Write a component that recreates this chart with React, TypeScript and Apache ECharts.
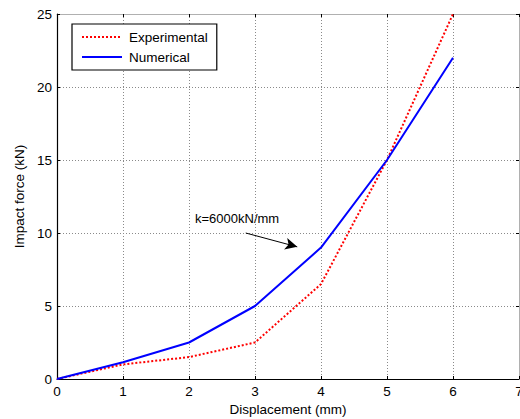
import React, { useEffect, useRef } from "react";
import * as echarts from "echarts";

const displacement = [0, 1, 2, 3, 4, 5, 6];
const experimental = [0, 1.0, 1.5, 2.5, 6.5, 15, 25];
const numerical = [0, 1.15, 2.5, 5, 9, 15, 22];
const annotationText = "k=6000kN/mm";
const arrowFrom = [2.86, 10.0];
const arrowTo = [3.64, 9.05];

const FONT = "Liberation Sans, Arial, sans-serif";

export default function App() {
  const ref = useRef<HTMLDivElement>(null);
  useEffect(() => {
    if (!ref.current) return;
    const chart = echarts.init(ref.current, undefined, { renderer: "svg" });
    const gridLine = { show: true, lineStyle: { color: "#8a8a8a", type: [1, 2] as any, width: 1 } };
    const option: any = {
      animation: false,
      backgroundColor: "#ffffff",
      textStyle: { fontFamily: FONT },
      grid: { left: 57, right: 1, top: 14, bottom: 40, containLabel: false, outerBoundsMode: "none" },
      legend: {
        orient: "vertical",
        left: 72,
        top: 24,
        padding: [6, 9, 6, 9],
        itemWidth: 40,
        itemHeight: 14,
        itemGap: 6,
        borderColor: "#000",
        borderWidth: 1.2,
        backgroundColor: "#fff",
        itemStyle: { opacity: 0 },
        textStyle: { fontFamily: FONT, fontSize: 13.5, color: "#000", padding: [0, 0, 0, 2] },
        data: ["Experimental", "Numerical"],
      },
      xAxis: [
        {
          type: "value",
          min: 0,
          max: 7,
          interval: 1,
          name: "Displacement (mm)",
          nameLocation: "middle",
          nameGap: 22,
          nameTextStyle: { fontFamily: FONT, fontSize: 13.5, color: "#000" },
          axisLine: { show: true, onZero: false, lineStyle: { color: "#000", width: 1.2 } },
          axisTick: { show: true, inside: true, length: 3, lineStyle: { color: "#000" } },
          axisLabel: { fontFamily: FONT, fontSize: 13.5, color: "#000", margin: 5 },
          splitLine: gridLine,
        },
        {
          type: "value",
          position: "top",
          min: 0,
          max: 7,
          interval: 1,
          axisLine: { show: true, onZero: false, lineStyle: { color: "#b0b0b0", width: 1 } },
          axisTick: { show: true, inside: true, length: 3, lineStyle: { color: "#000" } },
          axisLabel: { show: false },
          splitLine: { show: false },
        },
      ],
      yAxis: [
        {
          type: "value",
          min: 0,
          max: 25,
          interval: 5,
          name: "Impact force (kN)",
          nameLocation: "middle",
          nameGap: 30,
          nameTextStyle: { fontFamily: FONT, fontSize: 13.5, color: "#000" },
          axisLine: { show: true, onZero: false, lineStyle: { color: "#000", width: 1.2 } },
          axisTick: { show: true, inside: true, length: 3, lineStyle: { color: "#000" } },
          axisLabel: { fontFamily: FONT, fontSize: 13.5, color: "#000", margin: 5 },
          splitLine: gridLine,
        },
        {
          type: "value",
          position: "right",
          min: 0,
          max: 25,
          interval: 5,
          axisLine: { show: true, onZero: false, lineStyle: { color: "#b0b0b0", width: 1 } },
          axisTick: { show: true, inside: true, length: 3, lineStyle: { color: "#000" } },
          axisLabel: { show: false },
          splitLine: { show: false },
        },
      ],
      series: [
        {
          name: "Experimental",
          type: "line",
          symbol: "none",
          data: displacement.map((x, i) => [x, experimental[i]]),
          lineStyle: { color: "#ff0000", width: 2, type: [2, 2] },
          itemStyle: { color: "#ff0000" },
          z: 3,
        },
        {
          name: "Numerical",
          type: "line",
          symbol: "none",
          data: displacement.map((x, i) => [x, numerical[i]]),
          lineStyle: { color: "#0000ff", width: 2 },
          itemStyle: { color: "#0000ff" },
          z: 4,
          markLine: {
            silent: true,
            symbol: ["none", "arrow"],
            symbolSize: [9, 12],
            label: { show: false },
            lineStyle: { color: "#000", width: 1, type: "solid" },
            data: [[{ coord: arrowFrom }, { coord: arrowTo }]],
          },
        },
      ],
      graphic: [
        {
          type: "text",
          left: 195,
          top: 212,
          style: { text: annotationText, fontFamily: FONT, fontSize: 13, fill: "#000" },
        },
      ],
    };
    chart.setOption(option);
    return () => chart.dispose();
  }, []);
  return <div ref={ref} style={{ width: 520, height: 419, position: "absolute", left: 0, top: 0 }} />;
}
